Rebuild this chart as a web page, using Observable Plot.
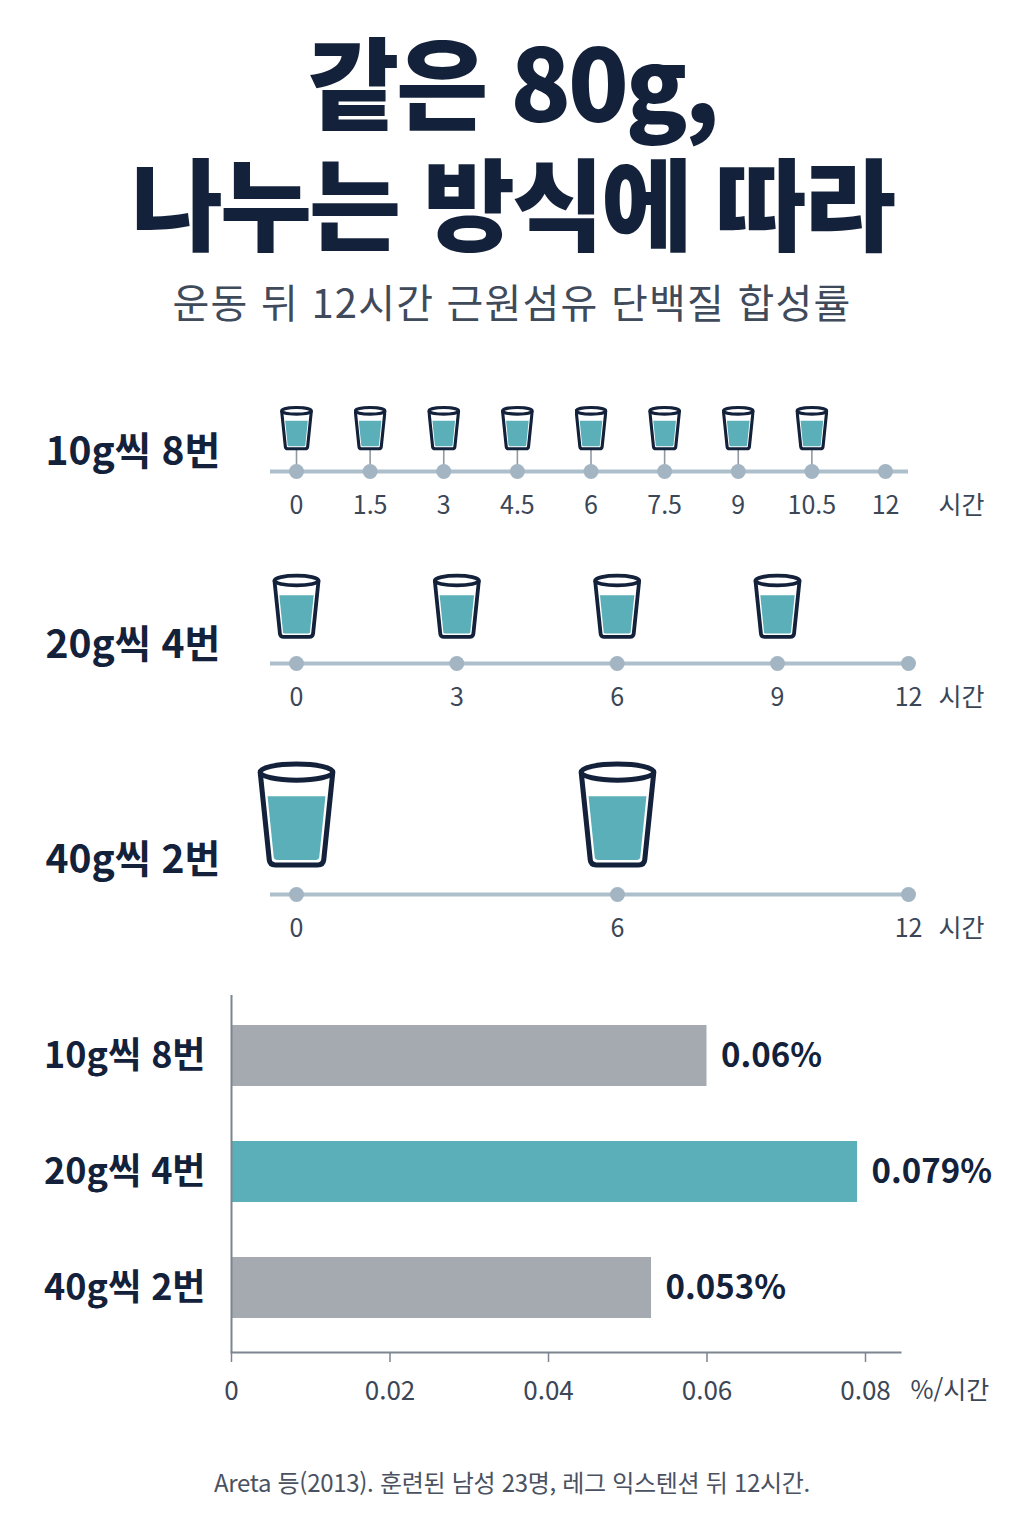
<!DOCTYPE html>
<html lang="ko">
<head>
<meta charset="utf-8">
<script src="https://cdn.jsdelivr.net/npm/d3@7"></script>
<script src="https://cdn.jsdelivr.net/npm/@observablehq/plot@0.6"></script>
<style>
  html, body { margin: 0; padding: 0; background: #ffffff; }
  body { font-family: "Noto Sans CJK KR", "Noto Sans", sans-serif; color: #13213a; }
  #page { position: relative; width: 1024px; height: 1536px; overflow: hidden; background: #fff; }
  .abs { position: absolute; left: 0; width: 1024px; }
  .title { text-align: center; font-size: 100px; font-weight: 900; line-height: 100px; letter-spacing: -3px; color: #13213a; white-space: nowrap; }
  #subtitle { top: 272px; text-align: center; font-size: 40px; font-weight: 400; color: #3f4a5b; letter-spacing: 1.2px; }
  #caption { top: 1464px; text-align: center; font-size: 24px; color: #4a5261; letter-spacing: -0.3px; }
  svg { overflow: visible; }
</style>
</head>
<body>
<div id="page">
  <div id="t1" class="abs title" style="top:29px"></div>
  <div id="t2" class="abs title" style="top:150px"></div>
  <div id="subtitle" class="abs"></div>
  <div id="p1" class="abs" style="top:380px"></div>
  <div id="p2" class="abs" style="top:555px"></div>
  <div id="p3" class="abs" style="top:740px"></div>
  <div id="bars" class="abs" style="top:960px"></div>
  <div id="caption" class="abs"></div>
</div>
<script>
// ---- text ----
const titleLines = ["같은 80g,", "나누는 방식에 따라"];
const subtitle = "운동 뒤 12시간 근원섬유 단백질 합성률";
const caption = "Areta 등(2013). 훈련된 남성 23명, 레그 익스텐션 뒤 12시간.";
const timeUnit = "시간";
const rateUnit = "%/시간";

// ---- schedules ----
const groups = ["10g씩 8번", "20g씩 4번", "40g씩 2번"];
const doses10 = [0, 1.5, 3, 4.5, 6, 7.5, 9, 10.5];
const ticks10 = [0, 1.5, 3, 4.5, 6, 7.5, 9, 10.5, 12];
const doses20 = [0, 3, 6, 9];
const ticks20 = [0, 3, 6, 9, 12];
const doses40 = [0, 6];
const ticks40 = [0, 6, 12];

// ---- synthesis rates ----
const rates = [0.06, 0.079, 0.053];
const rateLabels = ["0.06%", "0.079%", "0.053%"];
const rateTicks = [0, 0.02, 0.04, 0.06, 0.08];

const NAVY = "#13213a";
const TEAL = "#5aafb9";
const GRAY = "#a5a9b0";

document.getElementById("t1").textContent = titleLines[0];
document.getElementById("t2").textContent = titleLines[1];
document.getElementById("subtitle").textContent = subtitle;
document.getElementById("caption").textContent = caption;

function cupSrc(sw) {
  const top = 12, bot = 104, xl0 = 4, xl1 = 13, ry = 8;
  const wall = y => xl0 + (xl1 - xl0) * (y - top) / (bot - top);
  const body = `M${xl0},${top} L${xl1},${bot - 5} Q${xl1 + 0.6},${bot} ${xl1 + 6},${bot} L${80 - xl1 - 6},${bot} Q${80 - xl1 - 0.6},${bot} ${80 - xl1},${bot - 5} L${80 - xl0},${top}`;
  const g = sw / 2 + 2.5;
  const ly = 36, lb = bot - sw / 2 - 2.5;
  const a = wall(ly) + g, b = wall(lb) + g;
  const liquid = `M${a},${ly} L${80 - a},${ly} L${80 - b},${lb - 2} Q${80 - b - 0.5},${lb} ${80 - b - 3},${lb} L${b + 3},${lb} Q${b + 0.5},${lb} ${b},${lb - 2} Z`;
  const svg = `<svg xmlns="http://www.w3.org/2000/svg" viewBox="0 0 80 112">` +
    `<path d="${body}" fill="#fff" stroke="${NAVY}" stroke-width="${sw}" stroke-linejoin="round"/>` +
    `<path d="${liquid}" fill="${TEAL}"/>` +
    `<ellipse cx="40" cy="${top}" rx="36" ry="${ry}" fill="#fff" stroke="${NAVY}" stroke-width="${sw}"/>` +
    `</svg>`;
  return "data:image/svg+xml;charset=utf-8," + encodeURIComponent(svg);
}

function timeline({label, doses, ticks, xDomain, xRange, height, lineY, cupY, cupW, cupH, sw, stem, labelDy}) {
  return Plot.plot({
    width: 1024, height,
    marginLeft: 270, marginRight: 116, marginTop: 0, marginBottom: 0,
    style: {fontFamily: '"Noto Sans CJK KR", sans-serif', background: "transparent", overflow: "visible"},
    x: {type: "linear", domain: xDomain, range: xRange, axis: null},
    y: {type: "linear", domain: [0, 1], range: [lineY, cupY], axis: null},
    marks: [
      Plot.ruleY([0], {stroke: "#adbfcb", strokeWidth: 4}),
      stem ? Plot.ruleX(doses, {x: d => d, y1: () => 0, y2: () => 1, stroke: "#8e99a3", strokeWidth: 1.6}) : null,
      Plot.dot(ticks, {x: d => d, y: () => 0, r: 7.5, fill: "#a3b5c2"}),
      Plot.image(doses, {x: d => d, y: () => 1, src: cupSrc(sw), width: cupW, height: cupH}),
      Plot.text(ticks, {x: d => d, y: () => 0, dy: 34, text: d => String(d), fontSize: 25, fill: "#3b4657"}),
      Plot.text([timeUnit], {frameAnchor: "right", y: () => 0, dy: 34, dx: 30, textAnchor: "start", fontSize: 25, fill: "#3b4657"}),
      Plot.text([label], {frameAnchor: "left", y: () => 0, dy: labelDy, dx: -225, textAnchor: "start", fontSize: 39, fontWeight: 700, fill: NAVY})
    ]
  });
}

document.getElementById("p1").append(timeline({
  label: groups[0], doses: doses10, ticks: ticks10,
  xDomain: [0, 12], xRange: [296, 885],
  height: 150, lineY: 91, cupY: 48.5, cupW: 33, cupH: 47, sw: 7.5, stem: true, labelDy: -19
}));
document.getElementById("p2").append(timeline({
  label: groups[1], doses: doses20, ticks: ticks20,
  xDomain: [0, 9, 12], xRange: [296, 777, 908],
  height: 170, lineY: 108, cupY: 52, cupW: 49, cupH: 69, sw: 6.2, stem: false, labelDy: -18
}));
document.getElementById("p3").append(timeline({
  label: groups[2], doses: doses40, ticks: ticks40,
  xDomain: [0, 6, 12], xRange: [296, 617, 908],
  height: 220, lineY: 154, cupY: 76, cupW: 81, cupH: 113, sw: 5, stem: false, labelDy: -34
}));

const table = groups.map((g, i) => ({group: g, rate: rates[i], label: rateLabels[i]}));

document.getElementById("bars").append(Plot.plot({
  width: 1024, height: 460,
  marginLeft: 231, marginRight: 124, marginTop: 35, marginBottom: 68,
  style: {fontFamily: '"Noto Sans CJK KR", sans-serif', background: "transparent", color: NAVY, overflow: "visible"},
  x: {domain: [0, 0.08], range: [231, 865]},
  y: {domain: groups, range: [37, 386.5], paddingInner: 0.476, paddingOuter: 0.238},
  marks: [
    Plot.barX(table, {x: "rate", y: "group", fill: d => d.group === groups[1] ? TEAL : GRAY}),
    Plot.ruleX([0], {stroke: "#7d8590", strokeWidth: 2}),
    Plot.frame({anchor: "bottom", stroke: "#7d8590", strokeWidth: 2}),
    Plot.axisX({ticks: rateTicks, tickFormat: d => String(d), tickSize: 10, tickPadding: 19, fontSize: 26, stroke: "#7d8590", strokeWidth: 1.5, color: "#3b4657", fill: "#3b4657", label: null}),
    Plot.axisY({tickSize: 0, tickPadding: 26, fontSize: 36, fontWeight: 700, fill: NAVY, label: null}),
    Plot.text(table, {x: "rate", y: "group", text: "label", dx: 14, textAnchor: "start", fontSize: 33, fontWeight: 700, fill: NAVY}),
    Plot.text([rateUnit], {frameAnchor: "bottom-right", dx: 10, dy: 46, textAnchor: "start", fontSize: 25, fill: "#3b4657"})
  ]
}));
</script>
</body>
</html>
